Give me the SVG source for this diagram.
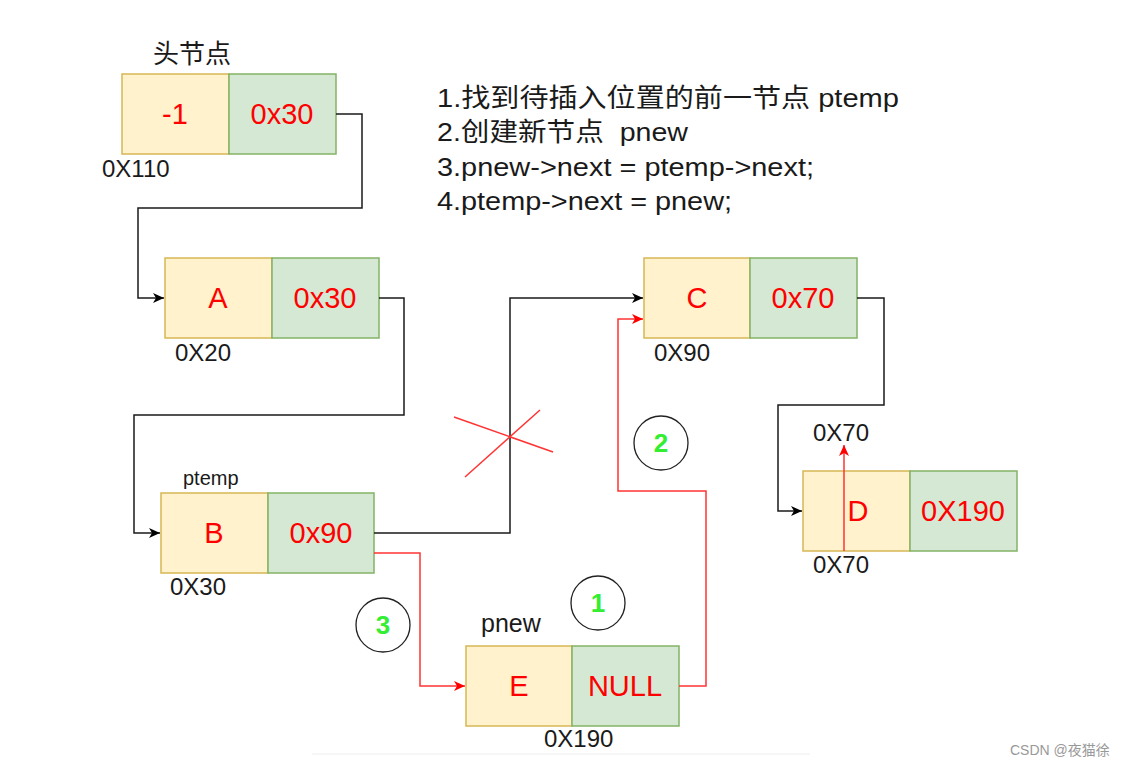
<svg xmlns="http://www.w3.org/2000/svg" width="1125" height="765" viewBox="0 0 1125 765">
<defs>
<style>
.yl{fill:#fff2cc;stroke:#d6b656;stroke-width:1.5}
.gr{fill:#d5e8d4;stroke:#82b366;stroke-width:1.5}
.val{font-family:"Liberation Sans",Arial,sans-serif;font-size:29px;fill:#ff0000;text-anchor:middle}
.addr{font-family:"Liberation Sans",Arial,sans-serif;font-size:24px;fill:#1a1a1a}
.lbl{font-family:"Liberation Sans","Noto Sans CJK SC",sans-serif;fill:#1a1a1a}
.num{font-family:"Liberation Sans",Arial,sans-serif;font-size:26px;font-weight:bold;fill:#33ee33;text-anchor:middle}
.circ{fill:none;stroke:#222;stroke-width:1.3}
.bk{fill:none;stroke:#1a1a1a;stroke-width:1.5}
.rd{fill:none;stroke:#ff3333;stroke-width:1.5}
.step{font-family:"Liberation Sans","Noto Sans CJK SC",sans-serif;font-size:26px;fill:#1a1a1a}
</style>
<marker id="ab" markerUnits="userSpaceOnUse" markerWidth="12" markerHeight="10" refX="11" refY="5" orient="auto">
<path d="M0,0 L11,5 L0,10 L3,5 z" fill="#000"/>
</marker>
<marker id="ar" markerUnits="userSpaceOnUse" markerWidth="12" markerHeight="10" refX="11" refY="5" orient="auto">
<path d="M0,0 L11,5 L0,10 L3,5 z" fill="#ff0000"/>
</marker>
</defs>
<rect width="1125" height="765" fill="#ffffff"/>
<line x1="312" y1="754" x2="810" y2="754" stroke="#eeeeee" stroke-width="1"/>

<g id="head">
<text class="lbl" x="153" y="63" font-size="26">头节点</text>
<rect class="yl" x="122" y="74" width="107" height="80"/>
<rect class="gr" x="229" y="74" width="107" height="80"/>
<text class="val" x="175" y="124">-1</text>
<text class="val" x="282" y="124">0x30</text>
<text class="addr" x="102" y="177">0X110</text>
</g>

<g id="nodeA">
<rect class="yl" x="165" y="258" width="107" height="80"/>
<rect class="gr" x="272" y="258" width="107" height="80"/>
<text class="val" x="218" y="308">A</text>
<text class="val" x="325" y="308">0x30</text>
<text class="addr" x="175" y="361">0X20</text>
</g>

<g id="nodeB">
<text class="lbl" x="183" y="485" font-size="20">ptemp</text>
<rect class="yl" x="161" y="493" width="107" height="80"/>
<rect class="gr" x="268" y="493" width="106" height="80"/>
<text class="val" x="214" y="543">B</text>
<text class="val" x="321" y="543">0x90</text>
<text class="addr" x="170" y="595">0X30</text>
</g>

<g id="nodeC">
<rect class="yl" x="644" y="258" width="106" height="80"/>
<rect class="gr" x="750" y="258" width="107" height="80"/>
<text class="val" x="697" y="308">C</text>
<text class="val" x="803" y="308">0x70</text>
<text class="addr" x="654" y="361">0X90</text>
</g>

<g id="nodeD">
<text class="addr" x="813" y="441">0X70</text>
<rect class="yl" x="803" y="471" width="107" height="80"/>
<rect class="gr" x="910" y="471" width="107" height="80"/>
<text class="val" x="858" y="521">D</text>
<text class="val" x="963" y="521">0X190</text>
<text class="addr" x="813" y="573">0X70</text>
</g>

<g id="nodeE">
<text class="lbl" x="481" y="632" font-size="25">pnew</text>
<rect class="yl" x="466" y="646" width="106" height="80"/>
<rect class="gr" x="572" y="646" width="107" height="80"/>
<text class="val" x="519" y="696">E</text>
<text class="val" x="625" y="696">NULL</text>
<text class="addr" x="544" y="747">0X190</text>
</g>

<g id="step1">
<circle class="circ" cx="598" cy="603" r="27"/>
<text class="num" x="598" y="612">1</text>
</g>
<g id="step2">
<circle class="circ" cx="661" cy="443" r="27"/>
<text class="num" x="661" y="452">2</text>
</g>
<g id="step3">
<circle class="circ" cx="383" cy="625" r="27"/>
<text class="num" x="383" y="634">3</text>
</g>

<g id="notes">
<text class="step" x="437" y="107" textLength="462" lengthAdjust="spacingAndGlyphs">1.找到待插入位置的前一节点 ptemp</text>
<text class="step" x="437" y="141" textLength="251" lengthAdjust="spacingAndGlyphs" xml:space="preserve">2.创建新节点  pnew</text>
<text class="step" x="437" y="176" textLength="377" lengthAdjust="spacingAndGlyphs">3.pnew-&gt;next = ptemp-&gt;next;</text>
<text class="step" x="437" y="210" textLength="295" lengthAdjust="spacingAndGlyphs">4.ptemp-&gt;next = pnew;</text>
</g>

<g id="connectors">
<path class="bk" d="M336,114 H362 V208 H138 V298 H164" marker-end="url(#ab)"/>
<path class="bk" d="M379,298 H404 V415 H134 V533 H160" marker-end="url(#ab)"/>
<path class="bk" d="M374,533 H510 V298 H643" marker-end="url(#ab)"/>
<path class="bk" d="M857,298 H884 V405 H778 V511 H802" marker-end="url(#ab)"/>
<path class="rd" d="M374,553 H420 V686 H465" marker-end="url(#ar)"/>
<path class="rd" d="M679,686 H706 V491 H618 V319 H643" marker-end="url(#ar)"/>
<path class="rd" d="M844,551 V445" marker-end="url(#ar)"/>
<line x1="454" y1="417" x2="553" y2="452" stroke="#ff3333" stroke-width="1.5"/>
<line x1="465" y1="477" x2="540" y2="410" stroke="#ff3333" stroke-width="1.5"/>
</g>

<text x="1010" y="755" font-family="'Liberation Sans','Noto Sans CJK SC',sans-serif" font-size="14" fill="#999999">CSDN @夜猫徐</text>
</svg>
